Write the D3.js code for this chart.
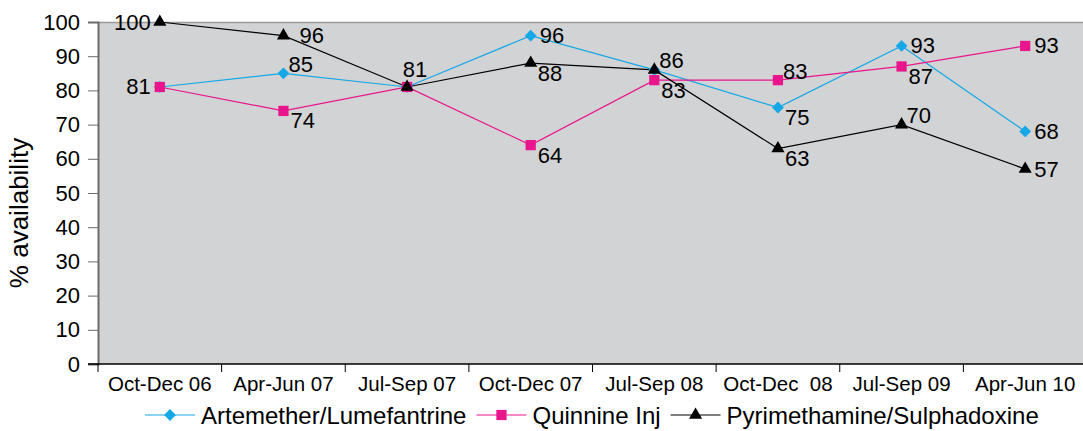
<!DOCTYPE html>
<html>
<head>
<meta charset="utf-8">
<script src="https://cdn.jsdelivr.net/npm/d3@7"></script>
<style>
  body { margin: 0; background: #fff; }
  text { font-family: "Liberation Sans", Arial, sans-serif; fill: #000; }
</style>
</head>
<body>
<svg id="chart"></svg>
<script>
var w = 1083;
var h = 431;

// quarters on the x axis
var quarters = ["Oct-Dec 06", "Apr-Jun 07", "Jul-Sep 07", "Oct-Dec 07", "Jul-Sep 08", "Oct-Dec  08", "Jul-Sep 09", "Apr-Jun 10"];
var yTicks = [0, 10, 20, 30, 40, 50, 60, 70, 80, 90, 100];

// % availability per drug
var seriesNames = ["Artemether/Lumefantrine", "Quinnine Inj", "Pyrimethamine/Sulphadoxine"];
var artemether = [81, 85, 81, 96, 86, 75, 93, 68];
var quinnine = [81, 74, 81, 64, 83, 83, 87, 93];
var pyrimethamine = [100, 96, 81, 88, 86, 63, 70, 57];

// where each data label sits relative to its marker
var artemetherLbl = ["l", "ar", "a", "r", "ar", "br", "r", "r"];
var quinnineLbl = ["l", "br", "a", "br", "br", "ar", "br", "r"];
var pyrimethamineLbl = ["l", "rf", "a", "br", "ar", "br", "ar", "r"];

var colors = ["#16a8e6", "#e8158c", "#000000"];
var shapes = [d3.symbolSquare, d3.symbolSquare, d3.symbolTriangle];
var symSizes = [70, 105, 75];
var symRot = [45, 0, 0];

var series = [
	{ name: seriesNames[0], values: artemether, lbl: artemetherLbl },
	{ name: seriesNames[1], values: quinnine, lbl: quinnineLbl },
	{ name: seriesNames[2], values: pyrimethamine, lbl: pyrimethamineLbl }
];

var margin = { top: 22, left: 98, bottom: 67 };
var plotW = 989;
var plotH = h - margin.top - margin.bottom;

var svg = d3.select("#chart")
	.attr("width", w)
	.attr("height", h);

var x = d3.scaleBand()
	.domain(quarters)
	.range([margin.left, margin.left + plotW]);

var y = d3.scaleLinear()
	.domain([0, 100])
	.range([margin.top + plotH, margin.top]);

//plot background
svg.append("rect")
	.attr("x", margin.left)
	.attr("y", margin.top)
	.attr("width", plotW)
	.attr("height", plotH)
	.style("fill", "#d2d3d5");

svg.append("line")
	.attr("x1", margin.left).attr("x2", margin.left + plotW)
	.attr("y1", margin.top + 0.5).attr("y2", margin.top + 0.5)
	.style("stroke", "#9a9a9a").style("stroke-width", 1.5);

// y axis
var yAxis = svg.append("g")
	.attr("transform", "translate(" + margin.left + ",0)")
	.call(d3.axisLeft(y).tickValues(yTicks).tickSize(10).tickPadding(8));
yAxis.select(".domain").style("stroke", "#6b6b6b").style("stroke-width", 2);
yAxis.selectAll(".tick line").style("stroke", "#6b6b6b");
yAxis.selectAll("text")
	.style("font-size", "22px");

// x axis, ticks between categories
var xAxis = svg.append("g")
	.attr("transform", "translate(0," + (margin.top + plotH) + ")");
xAxis.append("line")
	.attr("x1", margin.left - 10).attr("x2", margin.left + plotW)
	.style("stroke", "#000").style("stroke-width", 1.5);
xAxis.selectAll(".xtick")
	.data(quarters.concat(["end"]))
	.enter().append("line")
	.attr("x1", (d, i) => margin.left + i * x.bandwidth())
	.attr("x2", (d, i) => margin.left + i * x.bandwidth())
	.attr("y1", 0).attr("y2", 8)
	.style("stroke", "#000");
xAxis.selectAll(".xlabel")
	.data(quarters)
	.enter().append("text")
	.attr("x", d => x(d) + x.bandwidth() / 2)
	.attr("y", 27)
	.attr("text-anchor", "middle")
	.style("font-size", "20.5px")
	.style("white-space", "pre")
	.attr("xml:space", "preserve")
	.text(d => d);

// y title
svg.append("text")
	.attr("transform", "translate(28,213) rotate(-90)")
	.attr("text-anchor", "middle")
	.style("font-size", "26px")
	.text("% availability");

var cx = i => x(quarters[i]) + x.bandwidth() / 2;

var line = d3.line()
	.x((d, i) => cx(i))
	.y(d => y(d));

var off = {
	l: { dx: -9, dy: 0, anchor: "end" },
	r: { dx: 9, dy: 0, anchor: "start" },
	rf: { dx: 16, dy: 0, anchor: "start" },
	a: { dx: 8, dy: -17, anchor: "middle" },
	ar: { dx: 5, dy: -9, anchor: "start" },
	br: { dx: 7, dy: 10, anchor: "start" }
};

var plot = svg.append("g");

series.forEach((s, k) => {
	plot.append("path")
		.datum(s.values)
		.attr("d", line)
		.style("fill", "none")
		.style("stroke", colors[k])
		.style("stroke-width", 1.2);
});

series.forEach((s, k) => {
	plot.selectAll(".m" + k)
		.data(s.values)
		.enter().append("path")
		.attr("d", d3.symbol().type(shapes[k]).size(symSizes[k]))
		.attr("transform", (d, i) => "translate(" + cx(i) + "," + y(d) + ") rotate(" + symRot[k] + ")")
		.style("fill", colors[k]);
});

// labels, skipping ones that would land on an identical earlier label
var seen = {};
series.forEach((s, k) => {
	s.values.forEach((d, i) => {
		var key = i + "_" + d + "_" + s.lbl[i];
		if (seen[key]) return;
		seen[key] = true;
		var o = off[s.lbl[i]];
		plot.append("text")
			.attr("x", cx(i) + o.dx)
			.attr("y", y(d) + o.dy)
			.attr("text-anchor", o.anchor)
			.attr("dominant-baseline", "central")
			.style("font-size", "22px")
			.text(d);
	});
});

// legend
var legend = svg.append("g").attr("transform", "translate(145,415)");
var lx = 0;
series.forEach((s, k) => {
	var g = legend.append("g").attr("transform", "translate(" + lx + ",0)");
	g.append("line")
		.attr("x1", 0).attr("x2", 50)
		.style("stroke", colors[k]).style("stroke-width", 1.2);
	g.append("path")
		.attr("d", d3.symbol().type(shapes[k]).size(symSizes[k]))
		.attr("transform", "translate(25,0) rotate(" + symRot[k] + ")")
		.style("fill", colors[k]);
	var t = g.append("text")
		.attr("x", 56)
		.attr("dominant-baseline", "central")
		.style("font-size", "24px")
		.text(s.name);
	lx += 56 + t.node().getComputedTextLength() + 10;
});
</script>
</body>
</html>
